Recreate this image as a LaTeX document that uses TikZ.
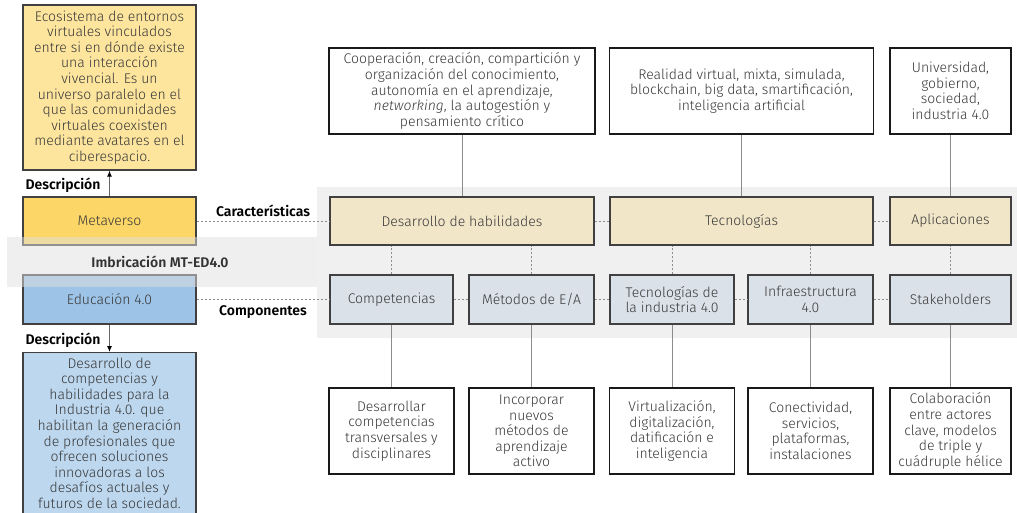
\documentclass[tikz,border=0pt]{standalone}
\usepackage{fontspec}
\setmainfont{Fira Sans Light}[BoldFont={Fira Sans SemiBold}, ItalicFont={Fira Sans Light Italic}]
\usepackage{tikz}
\usetikzlibrary{arrows,arrows.meta,positioning}
\usepackage{xcolor}
\definecolor{metafill}{HTML}{FCD667}
\definecolor{metadesc}{HTML}{FDE59E}
\definecolor{edufill}{HTML}{9DC3E6}
\definecolor{edudesc}{HTML}{BDD7EE}
\definecolor{carfill}{HTML}{F2E6C9}
\definecolor{compfill}{HTML}{DAE1E9}
\definecolor{bandgray}{HTML}{F0F0F0}
\definecolor{txtgray}{HTML}{383838}

\begin{document}
\begin{tikzpicture}[x=1pt, y=-1pt,
    font=\fontsize{14}{15.6}\selectfont,
    box/.style={draw=black!75, line width=1.3pt, text=txtgray, align=center, inner sep=2pt},
    infobox/.style={draw=black!90, line width=1.8pt, fill=white, text=txtgray, align=center, minimum height=86pt},
    carbox/.style={box, fill=carfill, minimum height=48pt},
    compbox/.style={box, fill=compfill, minimum height=49pt},
    dots/.style={draw=black!45, dash pattern=on 2pt off 2pt, line width=0.8pt},
    link/.style={draw=black!45, line width=1pt},
    tag/.style={font=\fontsize{14}{16}\selectfont\bfseries, text=black}]
    \useasboundingbox (0,0) rectangle (1017,513);
    \fill[bandgray] (317,187) rectangle (1017,338);

    \node[box, fill=metadesc, minimum width=173pt, minimum height=165pt] (metdesc) at (109.5,87.5) {Ecosistema de entornos\\virtuales vinculados\\entre si en dónde existe\\una interacción\\vivencial. Es un\\universo paralelo en el\\que las comunidades\\virtuales coexisten\\mediante avatares en el\\ciberespacio.};
    \node[box, fill=metafill, minimum width=173pt, minimum height=48pt] (meta) at (109.5,221) {Metaverso};
    \node[box, fill=edufill, minimum width=173pt, minimum height=49pt] (edu) at (109.5,299.5) {Educación 4.0};
    \node[box, fill=edudesc, minimum width=173pt, minimum height=170pt, anchor=north, inner ysep=5pt] (edudesc) at (109.5,352) {Desarrollo de\\competencias y\\habilidades para la\\Industria 4.0. que\\habilitan la generación\\de profesionales que\\ofrecen soluciones\\innovadoras a los\\desafíos actuales y\\futuros de la sociedad.\\[6pt]};

    \node[tag, anchor=west] (desc1) at (22,185) {Descripción};
    \node[tag, anchor=west] (desc2) at (22,340) {Descripción};
    \node[tag] (carac) at (263,211) {Características};
    \node[tag] (compo) at (263,312) {Componentes};

    \node[carbox, minimum width=264pt] (dev) at (462,221) {Desarrollo de habilidades};
    \node[carbox, minimum width=263pt] (tec) at (741.5,221) {Tecnologías};
    \node[carbox, minimum width=121pt] (apl) at (950.5,221) {Aplicaciones};

    \node[compbox, minimum width=123pt] (comp) at (391.5,299.5) {Competencias};
    \node[compbox, minimum width=125pt] (met) at (531.5,299.5) {Métodos de E/A};
    \node[compbox, minimum width=124pt] (tind) at (672,299.5) {Tecnologías de\\la industria 4.0};
    \node[compbox, minimum width=125pt] (infra) at (810.5,299.5) {Infraestructura\\4.0};
    \node[compbox, minimum width=121pt] (stake) at (950.5,299.5) {Stakeholders};

    \node[infobox, minimum width=266pt] (tdev) at (462,91) {Cooperación, creación, compartición y\\organización del conocimiento,\\autonomía en el aprendizaje,\\\textit{networking}, la autogestión y\\pensamiento crítico};
    \node[infobox, minimum width=264pt] (ttec) at (741.5,91) {Realidad virtual, mixta, simulada,\\blockchain, big data, smartificación,\\inteligencia artificial};
    \node[infobox, minimum width=121pt] (tapl) at (950.5,91) {Universidad,\\gobierno,\\sociedad,\\industria 4.0};

    \node[infobox, minimum width=125pt] (bcomp) at (391.5,431) {Desarrollar\\competencias\\transversales y\\disciplinares};
    \node[infobox, minimum width=125pt] (bmet) at (531.5,431) {Incorporar\\nuevos\\métodos de\\aprendizaje\\activo};
    \node[infobox, minimum width=125pt] (btind) at (672,431) {Virtualización,\\digitalización,\\datificación e\\inteligencia};
    \node[infobox, minimum width=125pt] (binfra) at (810.5,431) {Conectividad,\\servicios,\\plataformas,\\instalaciones};
    \node[infobox, minimum width=121pt] (bstake) at (950.5,431) {Colaboración\\entre actores\\clave, modelos\\de triple y\\cuádruple hélice};

    \fill[black!12, fill opacity=0.5] (7,237) rectangle (317,287);
    \node[font=\fontsize{14}{16}\selectfont\bfseries, text=black!80] (imbr) at (160,262) {Imbricación MT-ED4.0};

    \draw[link, draw=black!60, -{Latex[length=6pt,width=5pt,color=black]}] (meta) -- (metdesc);
    \draw[link, draw=black!60, -{Latex[length=6pt,width=5pt,color=black]}] (edu) -- (edudesc);

    \draw[dots] (meta) -- (dev);
    \draw[dots] (dev) -- (tec);
    \draw[dots] (tec) -- (apl);
    \draw[dots] (edu) -- (comp);
    \draw[dots] (comp) -- (met);
    \draw[dots] (met) -- (tind);
    \draw[dots] (tind) -- (infra);
    \draw[dots] (infra) -- (stake);

    \draw[dots] (comp.north) -- (comp.north |- dev.south);
    \draw[dots] (met.north) -- (met.north |- dev.south);
    \draw[dots] (tind.north) -- (tind.north |- tec.south);
    \draw[dots] (infra.north) -- (infra.north |- tec.south);
    \draw[dots] (stake) -- (apl);

    \draw[link] (tdev) -- (dev);
    \draw[link] (ttec) -- (tec);
    \draw[link] (tapl) -- (apl);
    \draw[link] (comp) -- (bcomp);
    \draw[link] (met) -- (bmet);
    \draw[link] (tind) -- (btind);
    \draw[link] (infra) -- (binfra);
    \draw[link] (stake) -- (bstake);
\end{tikzpicture}
\end{document}
